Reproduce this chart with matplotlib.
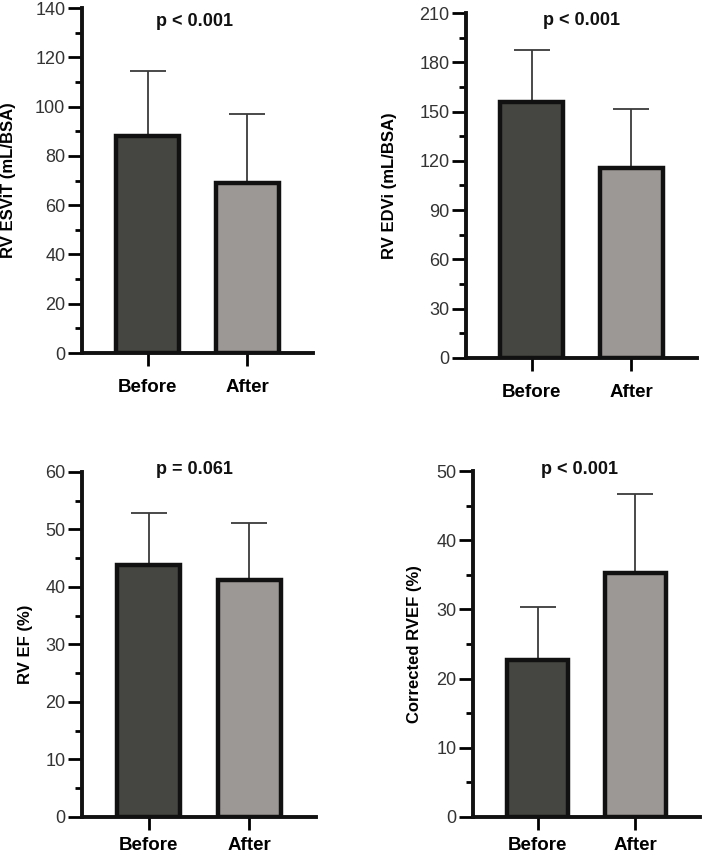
import matplotlib
matplotlib.use("Agg")
import matplotlib.pyplot as plt
from matplotlib.ticker import MultipleLocator

groups = ["Before", "After"]

esvi_mean = [88.1, 69.0]
esvi_sd = [26.3, 28.0]

edvi_mean = [155.8, 115.6]
edvi_sd = [31.7, 36.0]

ef_mean = [43.8, 41.2]
ef_sd = [9.1, 9.9]

rvef_mean = [22.7, 35.3]
rvef_sd = [7.6, 11.4]

p_values = ["p < 0.001", "p < 0.001", "p = 0.061", "p < 0.001"]
y_labels = ["RV ESViT (mL/BSA)", "RV EDVi (mL/BSA)", "RV EF (%)", "Corrected RVEF (%)"]
y_max = [140, 210, 60, 50]
y_major = [20, 30, 10, 10]

bar_colors = ["#454641", "#9b9895"]
font = ["Liberation Sans", "DejaVu Sans"]

# axes boxes in figure fractions (left, bottom, width, height)
boxes = [
    [0.1165, 0.5876, 0.328, 0.403],
    [0.662, 0.5818, 0.328, 0.403],
    [0.1165, 0.0456, 0.332, 0.403],
    [0.672, 0.0456, 0.322, 0.404],
]
label_x = [-0.285, -0.30, -0.21, -0.225]
p_xy = [(0.485, 0.962), (0.498, 0.977), (0.479, 1.006), (0.47, 1.006)]
xlab_pad = [10, 10, 5.5, 5.5]

fig = plt.figure(figsize=(7.04, 8.56), dpi=100)

data = [(esvi_mean, esvi_sd), (edvi_mean, edvi_sd), (ef_mean, ef_sd), (rvef_mean, rvef_sd)]
for i, (means, sds) in enumerate(data):
    ax = fig.add_axes(boxes[i])
    x = range(len(groups))
    # upper error bar only, drawn behind bars
    ax.errorbar(x, means, yerr=[[0] * len(sds), sds], fmt="none", ecolor="#3a3a3a",
                elinewidth=1.3, capsize=13, capthick=1.3, zorder=1)
    ax.bar(x, means, width=0.63, color=bar_colors, edgecolor="#111111",
           linewidth=3.2, zorder=2)
    ax.set_xlim(-0.66, 1.66)
    ax.set_ylim(0, y_max[i])
    ax.yaxis.set_major_locator(MultipleLocator(y_major[i]))
    ax.yaxis.set_minor_locator(MultipleLocator(y_major[i] / 2))
    ax.set_xticks(list(x))
    ax.set_xticklabels(groups, fontfamily=font, fontweight="bold", fontsize=13.5)
    for lab in ax.get_yticklabels():
        lab.set_fontfamily(font)
        lab.set_fontsize(13)
        lab.set_color("#333333")
    ax.tick_params(axis="y", which="major", length=10, width=2, direction="out", pad=2)
    ax.tick_params(axis="y", which="minor", length=5, width=2, direction="out")
    ax.tick_params(axis="x", length=9, width=2, pad=xlab_pad[i])
    for side in ["top", "right"]:
        ax.spines[side].set_visible(False)
    for side in ["left", "bottom"]:
        ax.spines[side].set_linewidth(2.8)
        ax.spines[side].set_color("#111111")
    ax.set_ylabel(y_labels[i], fontfamily=font, fontweight="bold", fontsize=12)
    ax.yaxis.set_label_coords(label_x[i], 0.5)
    ax.text(p_xy[i][0], p_xy[i][1], p_values[i], transform=ax.transAxes, ha="center",
            va="center", fontfamily=font, fontweight="bold", fontsize=13,
            color="#111111", clip_on=False)

fig.savefig("out.png", dpi=100)
